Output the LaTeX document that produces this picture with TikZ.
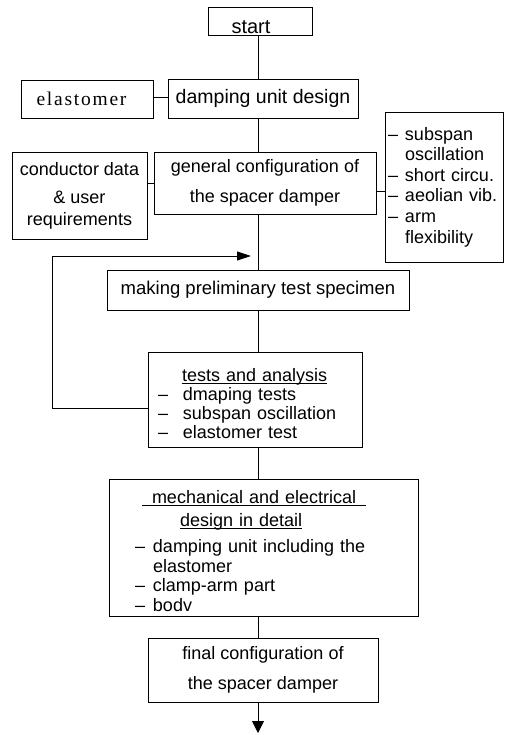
\documentclass[tikz,border=0pt]{standalone}
\usepackage{fontspec}
\setmainfont{Liberation Sans}
\newfontfamily\elfont[LetterSpace=9]{Liberation Serif}
\usetikzlibrary{arrows.meta}

% list dashes with a fixed hang
\newcommand\sdash{\makebox[17pt][l]{--}}
\newcommand\tdash{\makebox[25pt][l]{--}}
\newcommand\mdash{\makebox[18pt][l]{--}}
\newcommand\ulin[1]{\underline{\smash{#1}}}

\begin{document}
\begin{tikzpicture}[x=1pt,y=-1pt,line width=0.9pt,
  box/.style={draw,rectangle,inner sep=0pt,font=\fontsize{18}{20}\selectfont},
  flow/.style={line width=0.9pt},
  head/.style={-{Triangle[length=14pt,width=9pt]}}]
\useasboundingbox (0,0) rectangle (510,735);

% main column
\node[box,minimum width=104pt,minimum height=28pt,font=\fontsize{20}{20}\selectfont] (start) at (260,21)
  {\hspace*{-18pt}\rule{0pt}{26pt}start};
\node[box,minimum width=190pt,minimum height=39pt,font=\fontsize{19.5}{20}\selectfont] (design) at (263,98.5)
  {damping unit design};
\node[box,minimum width=132pt,minimum height=38pt,font=\elfont\fontsize{19.5}{20}\selectfont] (elast) at (87,99)
  {\hspace*{-11pt}elastomer};
\node[box,minimum width=222pt,minimum height=62pt,align=center] (general) at (265,183)
  {general configuration of\\[10pt]the spacer damper};
\node[box,minimum width=135pt,minimum height=87pt,align=center] (cond) at (79.5,195.5)
  {conductor data\\[8pt]\& user\\[2pt]requirements};
\node[box,minimum width=118pt,minimum height=150pt,text width=112pt,align=left,
  font=\fontsize{18}{20.6}\selectfont] (side) at (444,187)
  {\sdash subspan\\\hspace*{17pt}oscillation\\\sdash short circu.\\\sdash aeolian vib.\\\sdash arm\\\hspace*{17pt}flexibility};
\node[box,minimum width=302pt,minimum height=40pt,font=\fontsize{18.5}{20}\selectfont] (making) at (258,290)
  {making preliminary test specimen};
\node[box,minimum width=214pt,minimum height=95pt,text width=194pt,align=left,
  font=\fontsize{18}{19}\selectfont] (tests) at (255,399.5)
  {\rule{0pt}{21pt}\hspace*{24pt}\ulin{tests and analysis}\\\tdash dmaping tests\\\tdash subspan oscillation\\\tdash elastomer test};
\node[box,minimum width=309pt,minimum height=137pt,text width=257pt,align=left] (mech) at (263.5,547.5)
  {\rule{0pt}{20pt}\hspace*{7pt}\ulin{\hspace{10pt}mechanical and electrical\hspace{10pt}}\\[3pt]
   \hspace*{45pt}\ulin{design in detail}\\[6pt]
   \mdash damping unit including the\\\hspace*{18pt}elastomer\\[-1pt]
   \mdash clamp-arm part\\\mdash bodv};
\node[box,minimum width=230pt,minimum height=64pt,align=center] (final) at (263,670)
  {final configuration of\\[10pt]the spacer damper};

% connectors
\coordinate (spine) at (258,0);
\coordinate (exit) at (258,733);
\coordinate (loopcorner) at (52,256);
\coordinate (loopin) at (251,256);

\draw[flow] (start.south -| spine) -- (design.north -| spine);
\draw[flow] (design.south -| spine) -- (general.north -| spine);
\draw[flow] (general.south -| spine) -- (making.north -| spine);
\draw[flow] (making.south -| spine) -- (tests.north -| spine);
\draw[flow] (tests.south -| spine) -- (mech.north -| spine);
\draw[flow] (mech.south -| spine) -- (final.north -| spine);
\draw[flow,-{Triangle[length=12pt,width=12pt]}] (final.south -| spine) -- (exit);

\draw[flow] ([yshift=1.5pt]elast.east) -- ([yshift=1.5pt]elast.east -| design.west);
\draw[flow] (general.west) -- (general.west -| cond.east);
\draw[flow] ([yshift=-4pt]side.west) -- ([yshift=-4pt]side.west -| general.east);

% feedback loop
\draw[flow,head] ([yshift=-8.5pt]tests.west) -| (loopcorner) -- (loopin);
\end{tikzpicture}
\end{document}
